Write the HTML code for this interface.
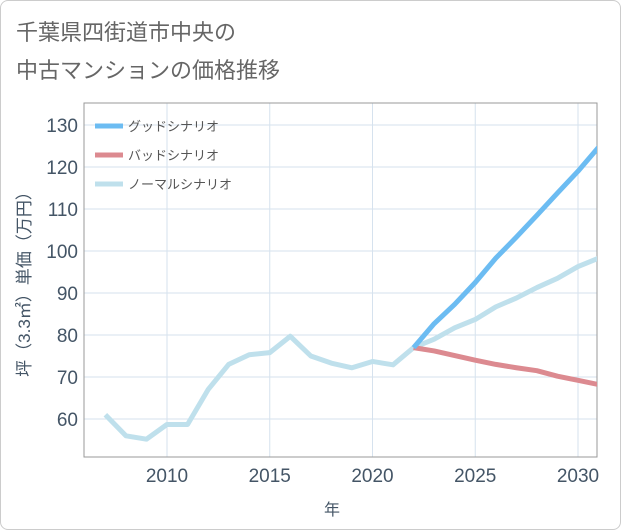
<!DOCTYPE html>
<html><head><meta charset="utf-8"><style>
body{margin:0;background:#fff;}
#wrap{position:relative;width:619px;height:528px;border:1px solid #ccc;border-radius:8px;overflow:hidden;background:#fff;font-family:"Liberation Sans","Noto Sans CJK JP",sans-serif;}
</style></head><body>
<div id="wrap">
<svg id="c" width="621" height="530" xmlns="http://www.w3.org/2000/svg" style="position:absolute;left:-1px;top:-1px">
<text x="16" y="40" font-size="22" fill="#666" font-family="Liberation Sans,Noto Sans CJK JP,sans-serif">千葉県四街道市中央の</text>
<text x="16" y="78" font-size="22" fill="#666" font-family="Liberation Sans,Noto Sans CJK JP,sans-serif">中古マンションの価格推移</text>
<g id="grid"></g><g id="axes"></g><g id="series"></g>
<text transform="translate(30,280) rotate(-90)" text-anchor="middle" font-size="17" fill="#456" font-family="Liberation Sans,Noto Sans CJK JP,sans-serif">坪（3.3㎡）単価（万円）</text>
<text x="332" y="515" text-anchor="middle" font-size="16" fill="#456" font-family="Liberation Sans,Noto Sans CJK JP,sans-serif">年</text>
<g id="legend"></g>
</svg>
</div>
<script>
const years=[2007,2008,2009,2010,2011,2012,2013,2014,2015,2016,2017,2018,2019,2020,2021,2022,2023,2024,2025,2026,2027,2028,2029,2030,2031];
const normalValues=[61,56,55.2,58.7,58.7,67,73,75.3,75.8,79.7,75,73.3,72.2,73.7,72.9,77,79,81.7,83.7,86.7,88.8,91.3,93.5,96.3,98.3];
const forecastYears=[2022,2023,2024,2025,2026,2027,2028,2029,2030,2031];
const goodValues=[77,82.7,87.3,92.5,98.3,103.3,108.5,113.8,119,124.7];
const badValues=[77,76.2,75.1,74,73,72.2,71.5,70.2,69.2,68.2];
const yTicks=[60,70,80,90,100,110,120,130];
const xTicks=[2010,2015,2020,2025,2030];
const legendLabels=["グッドシナリオ","バッドシナリオ","ノーマルシナリオ"];
const NS="http://www.w3.org/2000/svg";
const L=84,R=597,T=103,B=457;
const x=v=>167+(v-2010)*(578-167)/20;
const y=v=>125+(130-v)*4.2;
function mk(t,a,p){const e=document.createElementNS(NS,t);for(const k in a)e.setAttribute(k,a[k]);p.appendChild(e);return e;}
const g=document.getElementById('grid'),ax=document.getElementById('axes'),s=document.getElementById('series'),lg=document.getElementById('legend');
yTicks.forEach(v=>{const l=mk('line',{x1:L,x2:R,y1:y(v),y2:y(v),stroke:'#d6e2ee','stroke-width':1},g);


const t=mk('text',{x:L-6,y:y(v)+7,'text-anchor':'end','font-size':19,fill:'#456'},ax);t.textContent=v;

});
xTicks.forEach(v=>{const l=mk('line',{x1:x(v),x2:x(v),y1:T,y2:B,stroke:'#d6e2ee','stroke-width':1},g);


const t=mk('text',{x:x(v),y:B+25,'text-anchor':'middle','font-size':19,fill:'#456'},ax);t.textContent=v;

});
const fr=mk('rect',{x:L,y:T,width:R-L,height:B-T,fill:'none',stroke:'#999','stroke-width':1},ax);


function line(xs,vs,c,name){const p=mk('polyline',{points:xs.map((v,i)=>x(v)+','+y(vs[i])).join(' '),fill:'none',stroke:c,'stroke-width':5,'stroke-linejoin':'round','clip-path':'url(#clip)'},s);

}
const defs=mk('defs',{},document.getElementById('c'));const cp=mk('clipPath',{id:'clip'},defs);mk('rect',{x:L,y:T,width:R-L,height:B-T},cp);
line(years,normalValues,'#bfe0ec','normal-scenario-line');
line(forecastYears,badValues,'#dc8a90','bad-scenario-line');
line(forecastYears,goodValues,'#6cbcf2','good-scenario-line');
const cols=['#6cbcf2','#dc8a90','#bfe0ec'];
legendLabels.forEach((lab,i)=>{const yy=126+i*29;
const r=mk('line',{x1:95,x2:123,y1:yy,y2:yy,stroke:cols[i],'stroke-width':5},lg);


const t=mk('text',{x:128,y:yy+5,'font-size':13,fill:'#555'},lg);t.textContent=lab;

});
</script>
</body></html>
